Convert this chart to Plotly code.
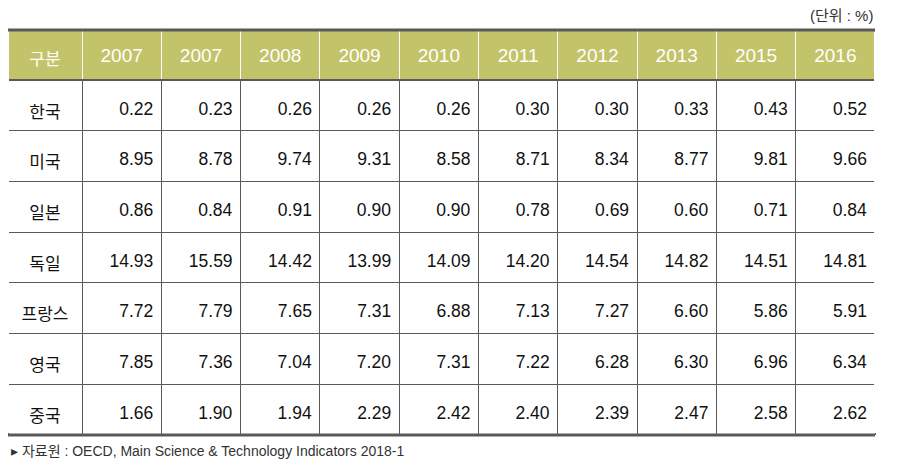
import plotly.graph_objects as go

header_labels = ["구분", "2007", "2007", "2008", "2009", "2010", "2011", "2012", "2013", "2015", "2016"]
countries = ["한국", "미국", "일본", "독일", "프랑스", "영국", "중국"]
v2007a = ["0.22", "8.95", "0.86", "14.93", "7.72", "7.85", "1.66"]
v2007b = ["0.23", "8.78", "0.84", "15.59", "7.79", "7.36", "1.90"]
v2008 = ["0.26", "9.74", "0.91", "14.42", "7.65", "7.04", "1.94"]
v2009 = ["0.26", "9.31", "0.90", "13.99", "7.31", "7.20", "2.29"]
v2010 = ["0.26", "8.58", "0.90", "14.09", "6.88", "7.31", "2.42"]
v2011 = ["0.30", "8.71", "0.78", "14.20", "7.13", "7.22", "2.40"]
v2012 = ["0.30", "8.34", "0.69", "14.54", "7.27", "6.28", "2.39"]
v2013 = ["0.33", "8.77", "0.60", "14.82", "6.60", "6.30", "2.47"]
v2015 = ["0.43", "9.81", "0.71", "14.51", "5.86", "6.96", "2.58"]
v2016 = ["0.52", "9.66", "0.84", "14.81", "5.91", "6.34", "2.62"]
unit_note = "(단위 : %)"
source_note = "▸ 자료원 : OECD, Main Science & Technology Indicators 2018-1"

# page body has an 8px default margin; compensate
OFF = 8
W, H = 902 - 2 * OFF, 476 - 2 * OFF


def xp(px):
    return min(max((px - OFF) / W, 0), 1)


def yp(py):
    return min(max(1 - (py - OFF) / H, 0), 1)


x0, x1 = 8, 875
top, bottom = 30, 435
KR = "Noto Sans CJK KR"
NUM = "Liberation Sans, Arial, " + KR
LINE = "#5a5a5a"

columns = [countries, v2007a, v2007b, v2008, v2009, v2010, v2011, v2012, v2013, v2015, v2016]
ncol = len(columns)


def vpad(values, size):
    # blank small first line pushes the visible text to the vertical middle of the cell
    return ["\u00a0<br><span style='font-size:%spx'>%s</span>" % (size, v) for v in values]


cell_sizes = [17] + [17.5] * (ncol - 1)
head_sizes = [17] + [19] * (ncol - 1)
cell_text = [vpad(col, s) for col, s in zip(columns, cell_sizes)]
head_text = [vpad([h], s) for h, s in zip(header_labels, head_sizes)]

fig = go.Figure(go.Table(
    domain=dict(x=[xp(x0), xp(x1)], y=[yp(bottom), yp(top)]),
    columnwidth=[74] + [79.3] * (ncol - 1),
    header=dict(
        values=head_text,
        fill_color="#c3c46a",
        line=dict(color="white", width=1),
        align="center",
        height=50,
        font=dict(family=[KR] + [NUM] * (ncol - 1), size=11, color="white"),
    ),
    cells=dict(
        values=cell_text,
        fill_color="white",
        line=dict(color=LINE, width=1),
        align=["center"] + ["right"] * (ncol - 1),
        height=50.7,
        font=dict(family=[KR] + [NUM] * (ncol - 1), size=12, color="#111111"),
    ),
))

shapes = [
    dict(type="line", xref="paper", yref="paper", x0=xp(x0), x1=xp(x1), y0=yp(top), y1=yp(top),
         line=dict(color=LINE, width=3)),
    dict(type="line", xref="paper", yref="paper", x0=xp(x0), x1=xp(x1), y0=yp(80), y1=yp(80),
         line=dict(color=LINE, width=2)),
    dict(type="line", xref="paper", yref="paper", x0=xp(x0), x1=xp(x1), y0=yp(bottom), y1=yp(bottom),
         line=dict(color=LINE, width=3)),
    dict(type="rect", xref="paper", yref="paper", x0=xp(x0 - 3), x1=xp(x0 + 1), y0=yp(bottom - 2), y1=yp(top + 2),
         line=dict(width=0), fillcolor="white"),
    dict(type="rect", xref="paper", yref="paper", x0=xp(x1 - 1), x1=xp(x1 + 3), y0=yp(bottom - 2), y1=yp(top + 2),
         line=dict(width=0), fillcolor="white"),
]

fig.update_layout(
    width=W, height=H,
    margin=dict(l=0, r=0, t=0, b=0),
    paper_bgcolor="white",
    shapes=shapes,
    annotations=[
        dict(text=unit_note, xref="paper", yref="paper", x=xp(x1), y=yp(15), xanchor="right", yanchor="middle",
             showarrow=False, font=dict(family=NUM, size=15, color="#333333")),
        dict(text=source_note, xref="paper", yref="paper", x=xp(9), y=yp(451), xanchor="left", yanchor="middle",
             showarrow=False, font=dict(family=NUM, size=14, color="#333333")),
    ],
)

fig.write_html("out.html")
